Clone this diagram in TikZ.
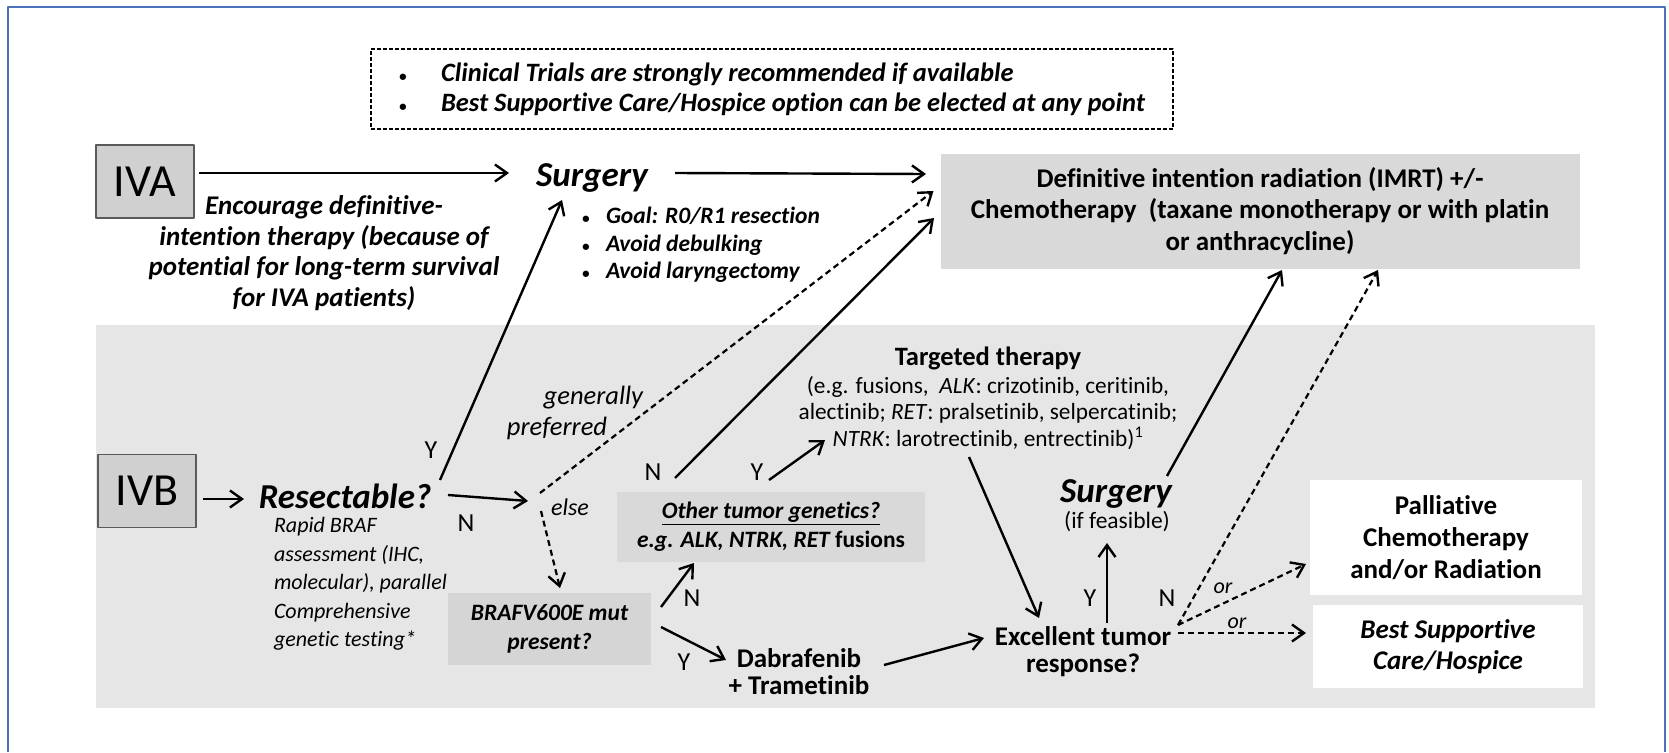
\documentclass[tikz,border=0pt]{standalone}
\usepackage{fontspec}
\setmainfont{Carlito}[Ligatures=NoCommon]
\usetikzlibrary{arrows.meta}
\definecolor{framebl}{HTML}{4A72B8}
\definecolor{bandgray}{HTML}{E6E6E6}
\definecolor{boxgray}{HTML}{D9D9D9}
\definecolor{qgray}{HTML}{D5D5D5}
\definecolor{stagegray}{HTML}{D0D0D0}
\definecolor{stageline}{HTML}{5A5A5A}
\newcommand{\smallbul}{{\fontsize{15}{15}\selectfont\textbullet}}
\tikzset{
  every node/.style={inner sep=0pt,outer sep=0pt,align=center,font=\fontsize{27}{31}\selectfont},
  stage/.style={draw=stageline,line width=1.5pt,fill=stagegray,minimum width=98pt,minimum height=73pt,font=\fontsize{46}{46}\selectfont},
  head/.style={font=\fontsize{35}{40}\selectfont\bfseries\itshape},
  bi/.style={font=\fontsize{27}{30.5}\selectfont\bfseries\itshape},
  bd/.style={font=\fontsize{27}{27}\selectfont\bfseries},
  qbox/.style={fill=qgray,font=\fontsize{23.5}{29}\selectfont\bfseries\itshape},
  wbox/.style={fill=white},
  lbl/.style={font=\fontsize{26}{26}\selectfont},
  orlbl/.style={font=\fontsize{22}{22}\selectfont\itshape},
  arr/.style={->,line width=2.4pt},
  darr/.style={->,line width=2.2pt,dash pattern=on 6pt off 4pt}
}
\begin{document}
\begin{tikzpicture}[x=1pt,y=-1pt,line join=round,>={Straight Barb[length=12pt,width=17pt,line width=2.4pt]}]
\useasboundingbox (0,0) rectangle (1669,752);
\fill[white] (0,0) rectangle (1669,752);
\fill[bandgray] (96,325) rectangle (1595,708);
\draw[framebl,line width=1.5pt] (8,752) -- (8,7) -- (1665,7) -- (1665,752);
% note box
\node[draw,line width=1.2pt,dash pattern=on 4pt off 2pt,minimum width=802pt,minimum height=80pt,align=left,font=\fontsize{26.5}{30}\selectfont\bfseries\itshape] (note) at (772,89)
  {\makebox[42pt][l]{\smallbul}Clinical Trials are strongly recommended if available\\\makebox[42pt][l]{\smallbul}Best Supportive Care/Hospice option can be elected at any point};
% IVA row
\node[stage] (iva) at (145,181.5) {IVA};
\node[head] (surg1) at (592,178) {Surgery};
\node[bi] (enc) at (324,253) {Encourage definitive-\\intention therapy (because of\\potential for long-term survival\\for IVA patients)};
\node[anchor=west,align=left,font=\fontsize{23.5}{27.5}\selectfont\itshape\bfseries] (goal) at (582,245)
  {\makebox[24pt][l]{\smallbul}Goal: R0/R1 resection\\\makebox[24pt][l]{\smallbul}Avoid debulking\\\makebox[24pt][l]{\smallbul}Avoid laryngectomy};
\node[fill=boxgray,minimum width=639pt,minimum height=115pt,font=\fontsize{27}{31.5}\selectfont\bfseries] (defin) at (1260,211)
  {Definitive intention radiation (IMRT) +/-\\Chemotherapy\ \ (taxane monotherapy or with platin\\or anthracycline)};
% IVB row
\node[stage] (ivb) at (147,491) {IVB};
\node[head] (resect) at (345,496) {Resectable?};
\node[anchor=west,align=left,font=\fontsize{22}{28.5}\selectfont\itshape] (rapid) at (274,584)
  {Rapid BRAF\\assessment (IHC,\\molecular), parallel\\Comprehensive\\genetic testing*};
\node[font=\fontsize{24}{24}\selectfont\itshape] (else) at (570,507) {else};
\node[anchor=east,font=\fontsize{26.5}{26.5}\selectfont\itshape] (gen) at (643,398) {generally};
\node[anchor=east,font=\fontsize{26.5}{26.5}\selectfont\itshape] (pref) at (607,428) {preferred};
\node[qbox,minimum width=203pt,minimum height=72pt] (braf) at (549.5,629) {BRAFV600E mut\\present?};
\node[qbox,fill=boxgray,minimum width=308pt,minimum height=70pt] (other) at (771,527)
  {\underline{Other tumor genetics?}\\e.g. ALK, NTRK, RET {\upshape fusions}};
\node[font=\fontsize{26.5}{26.5}\selectfont\bfseries] (targT) at (988,358) {Targeted therapy};
\node[font=\fontsize{23.3}{26.5}\selectfont] (targL) at (988,413)
  {(e.g. fusions,\ \ \textit{ALK}: crizotinib, ceritinib,\\alectinib; \textit{RET}: pralsetinib, selpercatinib;\\\textit{NTRK}: larotrectinib, entrectinib)\textsuperscript{1}};
\node[bd] (dab) at (799,671.5) {Dabrafenib\\+ Trametinib};
\node[bd] (exc) at (1083,651.5) {Excellent tumor\\response?};
\node[head] (surg2) at (1116,494) {Surgery};
\node[font=\fontsize{23.5}{23.5}\selectfont] (feas) at (1117,522) {(if feasible)};
\node[wbox,minimum width=272pt,minimum height=115pt,font=\fontsize{27}{32}\selectfont\bfseries] (pall) at (1446,537.5)
  {Palliative\\Chemotherapy\\and/or Radiation};
\node[wbox,minimum width=270pt,minimum height=83pt,bi] (bsc) at (1448,646.5) {Best Supportive\\Care/Hospice};
% labels
\node[lbl] (yres) at (431,450) {Y};
\node[lbl] (nres) at (466,523) {N};
\node[lbl] (noth) at (653,472) {N};
\node[lbl] (yoth) at (757,472) {Y};
\node[lbl] (nbraf) at (692,598) {N};
\node[lbl] (ybraf) at (684,662) {Y};
\node[lbl] (yexc) at (1090,598) {Y};
\node[lbl] (nexc) at (1167,598) {N};
\node[orlbl] (or1) at (1223,588) {or};
\node[orlbl] (or2) at (1237,623) {or};
% connectors
\draw[arr] ([shift={(5,-8.5)}]iva.east) -- ([shift={(-83,-5)}]surg1.center);
\draw[arr] ([shift={(83,-5)}]surg1.center) -- ([shift={(-14.5,-37)}]defin.west);
\draw[arr] ([shift={(7,8)}]ivb.east) -- ([shift={(-101,3)}]resect.center);
\draw[arr] ([shift={(95,-16)}]resect.center) -- ([shift={(-30,22)}]surg1.center);
\draw[arr] ([shift={(103,-1)}]resect.center) -- ([shift={(-42,-6)}]else.center);
\draw[darr] ([shift={(-30,-14)}]else.center) -- ([shift={(-7,-20)}]defin.west);
\draw[darr] ([shift={(-29,4)}]else.center) -- ([shift={(10.5,-5)}]braf.north);
\draw[arr] ([shift={(-96,-14)}]other.north) -- ([shift={(-6.5,7)}]defin.west);
\draw[arr] ([shift={(-2,-12)}]other.north) -- ([shift={(-163,27)}]targL.center);
\draw[arr] ([shift={(10,-22)}]braf.east) -- ([shift={(-77,1)}]other.south);
\draw[arr] ([shift={(10,-2)}]braf.east) -- ([shift={(-73,-11.5)}]dab.center);
\draw[arr] ([shift={(-19,44)}]targL.center) -- ([shift={(-44,-33.5)}]exc.center);
\draw[arr] ([shift={(85,-6.5)}]dab.center) -- ([shift={(-99,-13.5)}]exc.center);
\draw[arr] ([shift={(24,-28.5)}]exc.center) -- ([shift={(-10,21)}]feas.center);
\draw[arr] ([shift={(51,-18)}]surg2.center) -- ([shift={(22,1.5)}]defin.south);
\draw[darr] ([shift={(95,-26.5)}]exc.center) -- ([shift={(118,1.5)}]defin.south);
\draw[darr] ([shift={(95,-26.5)}]exc.center) -- ([shift={(-4,26.5)}]pall.west);
\draw[darr] ([shift={(95,-18.5)}]exc.center) -- ([shift={(-7,-13.5)}]bsc.west);
\end{tikzpicture}
\end{document}
